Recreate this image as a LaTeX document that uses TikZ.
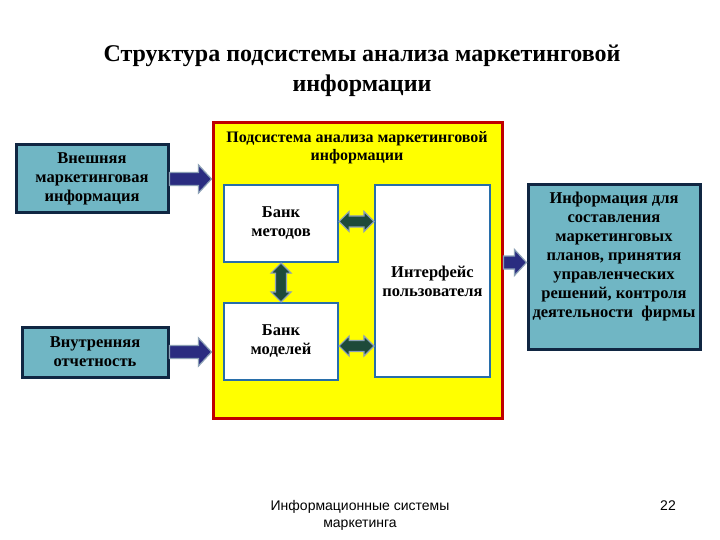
\documentclass[tikz,border=0pt]{standalone}
\usepackage{fontspec}
\setmainfont{Liberation Serif}
\newfontfamily\footfont{Liberation Sans}
\usetikzlibrary{calc}
\definecolor{tealbox}{RGB}{112,182,196}
\definecolor{navyedge}{RGB}{16,38,66}
\definecolor{navyarrow}{RGB}{42,44,128}
\definecolor{greenarrow}{RGB}{30,74,58}
\definecolor{arrowedge}{RGB}{140,160,182}
\definecolor{subred}{RGB}{192,0,0}
\definecolor{subyellow}{RGB}{255,255,0}
\definecolor{innerblue}{RGB}{40,110,170}
\tikzset{
  boxfont/.style={font=\bfseries\fontsize{16.5}{19}\selectfont, align=center},
  tealnode/.style={draw=navyedge, line width=3pt, fill=tealbox, inner sep=0pt, boxfont},
  whitenode/.style={draw=innerblue, line width=2.2pt, fill=white, inner sep=0pt, boxfont},
  navyblk/.style={fill=navyarrow, draw=arrowedge, line width=1.2pt, line join=miter},
  greenblk/.style={fill=greenarrow, draw=arrowedge, line width=1.2pt, line join=miter},
}
\begin{document}
\begin{tikzpicture}[x=1pt,y=-1pt]
\useasboundingbox (0,0) rectangle (720,540);
\fill[white] (0,0) rectangle (720,540);

% title
\node[font=\bfseries\fontsize{24}{30}\selectfont, align=center] (title) at (362,71)
  {Структура подсистемы анализа маркетинговой\\информации};

% yellow subsystem
\node[draw=subred, line width=3pt, fill=subyellow, minimum width=289pt, minimum height=295pt, inner sep=0pt] (sub) at (357.5,270.5) {};
\node[font=\bfseries\fontsize{16}{18}\selectfont, align=center] (subtitle) at (357,148) {Подсистема анализа маркетинговой\\информации};

\node[whitenode, minimum width=114pt, minimum height=77pt] (meth) at (281,223.5) {Банк\\методов};
\node[whitenode, minimum width=114pt, minimum height=77pt] (mod) at (281,341.5) {Банк\\моделей};
\node[whitenode, minimum width=115pt, minimum height=192pt] (ui) at (432.5,281) {Интерфейс\\пользователя};

% outer boxes
\node[tealnode, minimum width=152pt, minimum height=68pt] (ext) at (92,179) {Внешняя\\маркетинговая\\информация};
\node[tealnode, minimum width=146pt, minimum height=50pt] (rep) at (95,352) {Внутренняя\\отчетность};
\node[tealnode, minimum width=172pt, minimum height=164pt] (out) at (614,267) {};
\node[boxfont] (outtxt) at (614,257) {Информация для\\составления\\маркетинговых\\планов, принятия\\управленческих\\решений, контроля\\деятельности\ \ фирмы};

% navy single arrows
\coordinate (a1s) at (ext.east);
\coordinate (a1e) at (ext.east -| sub.west);
\draw[navyblk] ($(a1s)+(0,-6.5)$) -- ($(a1e)+(-13,-6.5)$) -- ($(a1e)+(-13,-14)$) -- (a1e) -- ($(a1e)+(-13,14)$) -- ($(a1e)+(-13,6.5)$) -- ($(a1s)+(0,6.5)$) -- cycle;
\coordinate (a2s) at (rep.east);
\coordinate (a2e) at (rep.east -| sub.west);
\draw[navyblk] ($(a2s)+(0,-6.5)$) -- ($(a2e)+(-13,-6.5)$) -- ($(a2e)+(-13,-14)$) -- (a2e) -- ($(a2e)+(-13,14)$) -- ($(a2e)+(-13,6.5)$) -- ($(a2s)+(0,6.5)$) -- cycle;
\coordinate (a3s) at ($(sub.east)+(0,-8)$);
\coordinate (a3e) at (a3s -| out.west);
\draw[navyblk] ($(a3s)+(0,-6.5)$) -- ($(a3e)+(-12,-6.5)$) -- ($(a3e)+(-12,-13)$) -- (a3e) -- ($(a3e)+(-12,13)$) -- ($(a3e)+(-12,6.5)$) -- ($(a3s)+(0,6.5)$) -- cycle;

% green double arrows
\coordinate (d1s) at ($(meth.east)+(0,-2)$);
\coordinate (d1e) at (d1s -| ui.west);
\draw[greenblk] (d1s) -- ($(d1s)+(10,-10)$) -- ($(d1s)+(10,-5.5)$) -- ($(d1e)+(-10,-5.5)$) -- ($(d1e)+(-10,-10)$) -- (d1e) -- ($(d1e)+(-10,10)$) -- ($(d1e)+(-10,5.5)$) -- ($(d1s)+(10,5.5)$) -- ($(d1s)+(10,10)$) -- cycle;
\coordinate (d2s) at ($(mod.east)+(0,4.5)$);
\coordinate (d2e) at (d2s -| ui.west);
\draw[greenblk] (d2s) -- ($(d2s)+(10,-10)$) -- ($(d2s)+(10,-5.5)$) -- ($(d2e)+(-10,-5.5)$) -- ($(d2e)+(-10,-10)$) -- (d2e) -- ($(d2e)+(-10,10)$) -- ($(d2e)+(-10,5.5)$) -- ($(d2s)+(10,5.5)$) -- ($(d2s)+(10,10)$) -- cycle;
\coordinate (d3s) at (meth.south);
\coordinate (d3e) at (mod.north);
\draw[greenblk] (d3s) -- ($(d3s)+(10,10)$) -- ($(d3s)+(5.5,10)$) -- ($(d3e)+(5.5,-10)$) -- ($(d3e)+(10,-10)$) -- (d3e) -- ($(d3e)+(-10,-10)$) -- ($(d3e)+(-5.5,-10)$) -- ($(d3s)+(-5.5,10)$) -- ($(d3s)+(-10,10)$) -- cycle;

% footer
\node[font=\footfont\fontsize{14}{17}\selectfont, align=center] (foot) at (360,515) {Информационные системы\\маркетинга};
\node[font=\footfont\fontsize{14}{17}\selectfont] (page) at (668,506) {22};
\end{tikzpicture}
\end{document}
